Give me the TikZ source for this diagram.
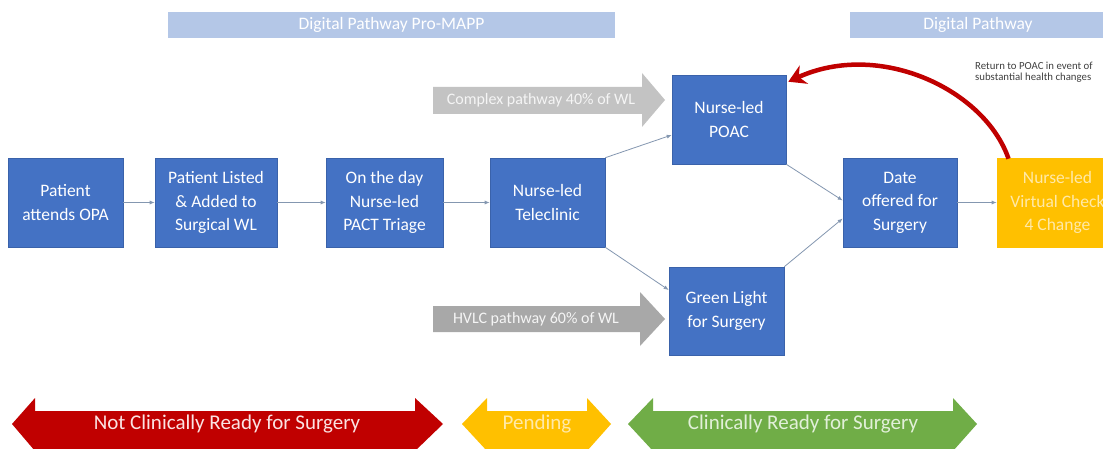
\documentclass[tikz,border=0pt]{standalone}
\usepackage{fontspec}
\setmainfont{Carlito}
\usetikzlibrary{arrows.meta}
\definecolor{boxblue}{HTML}{4472C4}
\definecolor{boxedge}{HTML}{3A62AA}
\definecolor{barblue}{HTML}{B4C7E7}
\definecolor{ornge}{HTML}{FFC000}
\definecolor{ornglight}{HTML}{FFE9A8}
\definecolor{dred}{HTML}{C00000}
\definecolor{redtext}{HTML}{FBE3E3}
\definecolor{grn}{HTML}{70AD47}
\definecolor{grntext}{HTML}{E2F0D9}
\definecolor{greyA}{HTML}{C3C3C3}
\definecolor{greyB}{HTML}{A8A8A8}
\definecolor{conncol}{HTML}{8497B0}
\tikzset{
  procbox/.style={draw=boxedge, line width=0.6pt, fill=boxblue, text=white,
    font=\fontsize{17.5}{23.5}\selectfont, align=center, inner sep=0pt,
    minimum height=89pt},
  conn/.style={draw=conncol, line width=0.8pt, -{Latex[length=5pt,width=4pt]}},
  bartext/.style={text=white, font=\fontsize{17.5}{20}\selectfont},
  greytext/.style={text=white!92!gray, font=\fontsize{16}{19}\selectfont},
  bottext/.style={font=\fontsize{21}{24}\selectfont}
}
\begin{document}
\begin{tikzpicture}[x=1pt,y=-1pt]
\useasboundingbox (0,0) rectangle (1103,449);
\fill[white] (0,0) rectangle (1103,449);

% top bars
\fill[barblue] (168,12) rectangle (615,38);
\node[bartext] (barA) at (391.5,25) {Digital Pathway Pro-MAPP};
\fill[barblue] (850,12) rectangle (1110,38);
\node[bartext] (barB) at (978,25) {Digital Pathway};

% grey arrows
\fill[greyA] (433,87) -- (642,87) -- (642,73) -- (665,100) -- (642,127) -- (642,114) -- (433,114) -- cycle;
\node[greytext] (cplx) at (541,100) {Complex pathway 40\% of WL};
\fill[greyB] (433,306) -- (640,306) -- (640,292) -- (665,319) -- (640,346) -- (640,332) -- (433,332) -- cycle;
\node[greytext] (hvlc) at (536,319) {HVLC pathway 60\%  of WL};

% process boxes
\node[procbox, minimum width=115pt] (opa) at (65.5,202.5) {Patient\\attends OPA};
\node[procbox, minimum width=122pt] (listed) at (216,202.5) {Patient Listed\\\& Added to\\Surgical WL};
\node[procbox, minimum width=117pt] (day) at (384.5,202.5) {On the day\\Nurse-led\\PACT Triage};
\node[procbox, minimum width=115pt] (tele) at (547.5,202.5) {Nurse-led\\Teleclinic};
\node[procbox, minimum width=114pt] (poac) at (729,119.5) {Nurse-led\\POAC};
\node[procbox, minimum width=115pt, minimum height=88pt] (green) at (726.5,311) {Green Light\\for Surgery};
\node[procbox, minimum width=114pt] (date) at (900,202.5) {Date\\offered for\\Surgery};
\node[procbox, draw=ornge, fill=ornge, text=ornglight, minimum width=121pt] (virt) at (1057.5,202.5) {Nurse-led\\Virtual Check\\4 Change};

% connectors
\draw[conn] (opa.east) -- (listed.west);
\draw[conn] (listed.east) -- (day.west);
\draw[conn] (day.east) -- (tele.west);
\draw[conn] (tele.north east) -- ([yshift=-15.5pt]poac.west);
\draw[conn] (tele.south east) -- ([yshift=21pt]green.west);
\draw[conn] (poac.south east) -- ([yshift=2pt]date.west);
\draw[conn] (green.north east) -- ([yshift=-16pt]date.west);
\draw[conn] (date.east) -- (virt.west);

% red return curve
\coordinate (rstart) at ([xshift=-49pt,yshift=-1pt]virt.north);
\coordinate (rend) at ([xshift=2pt,yshift=-7pt]poac.north east);
\draw[dred, line width=4.5pt, -{Stealth[length=17pt,width=20pt]}] (rstart) .. controls (985,90) and (880,40) .. (rend);
\node[anchor=north west, align=left, inner sep=0pt, text=black!75, font=\fontsize{10.8}{10.5}\selectfont] (rtext) at (975,62) {Return to POAC in event of\\substantial health changes};

% bottom double arrows
\fill[dred] (12,424) -- (35,398) -- (35,411) -- (415,411) -- (415,398) -- (443,424) -- (415,451) -- (415,455) -- (35,455) -- (35,451) -- cycle;
\node[bottext, text=redtext] (notready) at (227,424) {Not Clinically Ready for Surgery};
\fill[ornge] (462,424) -- (487,398) -- (487,411) -- (587,411) -- (587,398) -- (611,424) -- (587,451) -- (587,455) -- (487,455) -- (487,451) -- cycle;
\node[bottext, text=ornglight] (pending) at (537,424) {Pending};
\fill[grn] (628,424) -- (653,398) -- (653,411) -- (953,411) -- (953,398) -- (977,424) -- (953,451) -- (953,455) -- (653,455) -- (653,451) -- cycle;
\node[bottext, text=grntext] (ready) at (803,424) {Clinically Ready for Surgery};
\end{tikzpicture}
\end{document}
